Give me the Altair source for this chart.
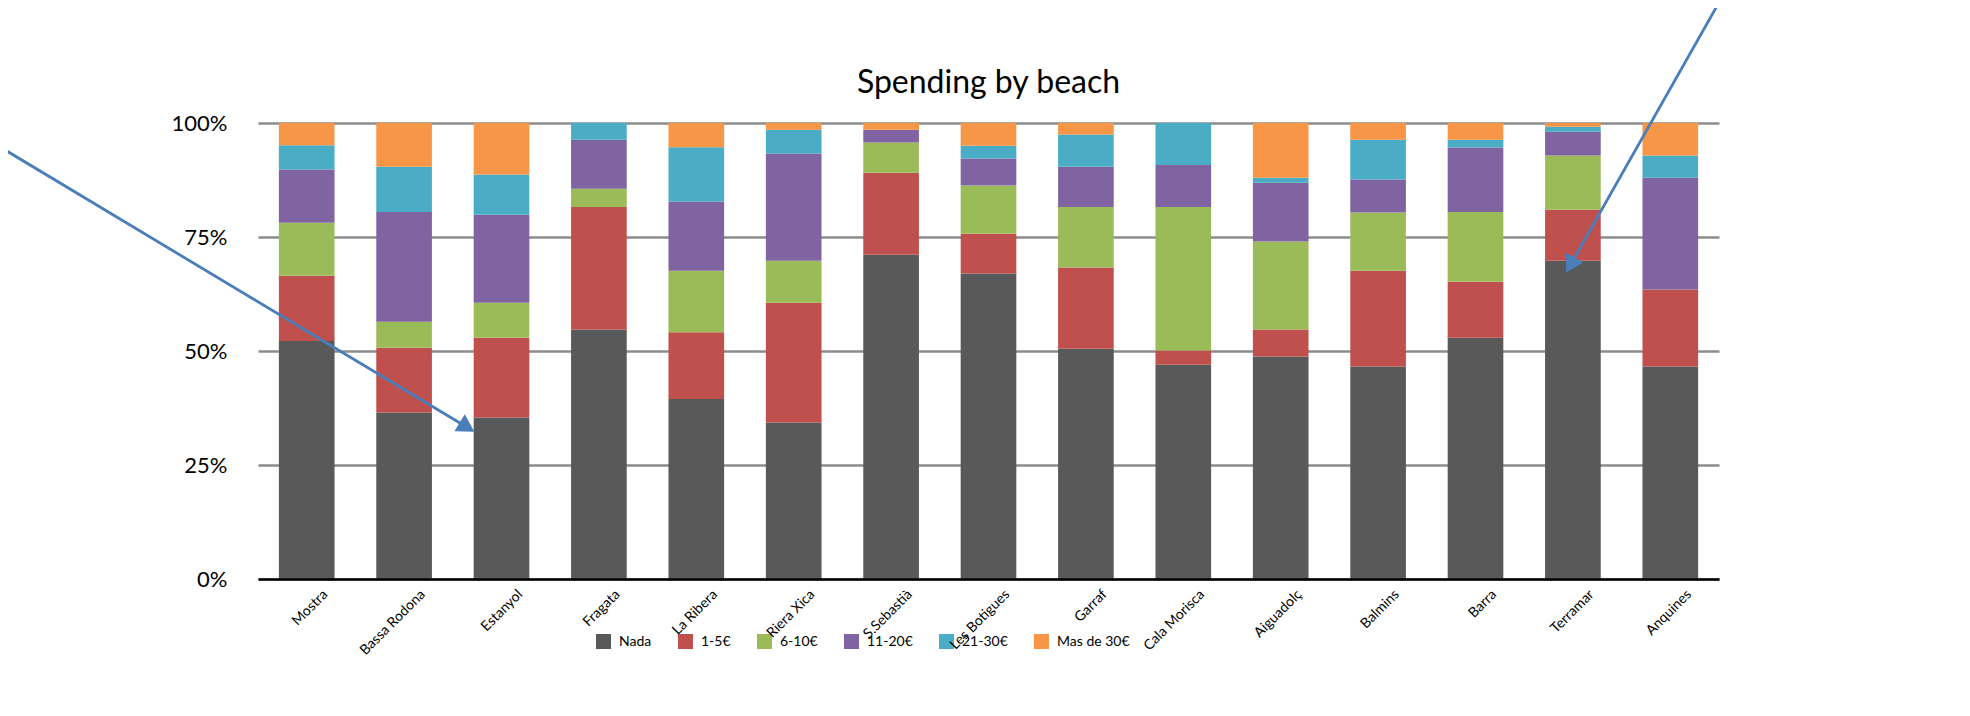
import math
import altair as alt
import pandas as pd

beaches = ["Mostra", "Bassa Rodona", "Estanyol", "Fragata", "La Ribera", "Riera Xica",
           "S.Sebastià", "Les Botigues", "Garraf", "Cala Morisca", "Aiguadolç",
           "Balmins", "Barra", "Terramar", "Anquines"]
categories = ["Nada", "1-5€", "6-10€", "11-20€", "21-30€", "Mas de 30€"]

nada = [52.2, 36.5, 35.4, 54.7, 39.5, 34.3, 71.1, 67.0, 50.5, 47.0, 48.8, 46.6, 52.9, 69.8, 46.6]
e1_5 = [14.3, 14.2, 17.5, 26.9, 14.6, 26.3, 18.0, 8.7, 17.8, 3.1, 5.9, 21.0, 12.3, 11.2, 16.9]
e6_10 = [11.6, 5.7, 7.7, 4.0, 13.5, 9.2, 6.6, 10.6, 13.3, 31.5, 19.3, 12.8, 15.3, 11.9, 0.0]
e11_20 = [11.7, 24.1, 19.3, 10.7, 15.2, 23.5, 2.8, 5.9, 8.8, 9.2, 12.9, 7.2, 14.1, 5.2, 24.5]
e21_30 = [5.3, 9.9, 8.8, 3.7, 11.9, 5.2, 0.0, 2.8, 7.1, 9.2, 1.1, 8.7, 1.7, 1.1, 4.9]
e30p = [4.9, 9.6, 11.3, 0.0, 5.3, 1.5, 1.5, 5.0, 2.5, 0.0, 12.0, 3.7, 3.7, 0.8, 7.1]

colors = ["#595959", "#C0504D", "#9BBB59", "#8064A2", "#4BACC6", "#F79646"]

# annotation arrows (category units on x, share of 100% on y)
arrow_x_start = [-2.645, 15.015]
arrow_y_start = [0.947, 1.270]
arrow_x_tip = [2.222, 13.43]
arrow_y_tip = [0.323, 0.672]

W, H = 1461, 456
NCAT = len(beaches)
HEAD = 400
HEAD_BACK = 0.866 * math.sqrt(HEAD) / 2

series = [nada, e1_5, e6_10, e11_20, e21_30, e30p]
rows = []
for ci, (cat, vals) in enumerate(zip(categories, series)):
    for b, v in zip(beaches, vals):
        rows.append({"beach": b, "cat": cat, "value": v, "idx": ci})
df = pd.DataFrame(rows)

arows = []
for xs, ys, xt, yt in zip(arrow_x_start, arrow_y_start, arrow_x_tip, arrow_y_tip):
    dxp = (xt - xs) * W / NCAT
    dyp = -(yt - ys) * H
    length = math.hypot(dxp, dyp)
    f = 1 - HEAD_BACK / length
    ang = math.degrees(math.atan2(dxp, -dyp)) % 360
    arows.append({"xs": xs, "ys": ys, "xh": xs + f * (xt - xs), "yh": ys + f * (yt - ys), "ang": ang})
adf = pd.DataFrame(arows)

bars = alt.Chart(df).mark_bar().encode(
    x=alt.X("beach:N", sort=beaches,
            scale=alt.Scale(paddingInner=0.4286, paddingOuter=0.2143),
            axis=alt.Axis(title="", labelAngle=-45, labelAlign="right", labelBaseline="top",
                          labelFontSize=14, labelColor="black", labelPadding=8, labelOffset=14,
                          ticks=False, tickSize=0, domainColor="black", domainWidth=2.5,
                          grid=False, zindex=1)),
    y=alt.Y("value:Q", stack="normalize",
            scale=alt.Scale(domain=[0, 1], nice=False),
            axis=alt.Axis(title="", values=[0, 0.25, 0.5, 0.75, 1], format=".0%",
                          labelFontSize=22, labelColor="black", labelPadding=31,
                          ticks=False, tickSize=0, domain=False, grid=True,
                          gridColor="#8c8c8c", gridWidth=2.5)),
    color=alt.Color("cat:N", sort=categories,
                    scale=alt.Scale(domain=categories, range=colors),
                    legend=alt.Legend(title=None, orient="none", direction="horizontal",
                                      legendX=338, legendY=511, symbolType="square",
                                      symbolSize=225, symbolStrokeWidth=0, labelFontSize=14,
                                      labelColor="black", labelOffset=8, columnPadding=26,
                                      padding=0)),
    order=alt.Order("idx:Q", sort="ascending"),
)

xs_scale = alt.Scale(domain=[0, NCAT], nice=False, zero=False)
ys_scale = alt.Scale(domain=[0, 1], nice=False, zero=False)

arrow_lines = alt.Chart(adf).mark_rule(color="#4A7EBB", strokeWidth=2.8, clip=False).encode(
    x=alt.X("xs:Q", scale=xs_scale, axis=None),
    y=alt.Y("ys:Q", scale=ys_scale, axis=None),
    x2="xh:Q",
    y2="yh:Q",
)

arrow_heads = alt.Chart(adf).mark_point(shape="triangle-up", filled=True, size=HEAD,
                                        color="#4A7EBB", opacity=1, clip=False).encode(
    x=alt.X("xh:Q", scale=xs_scale, axis=None),
    y=alt.Y("yh:Q", scale=ys_scale, axis=None),
    angle=alt.Angle("ang:Q", scale=None),
)

chart = alt.layer(bars, arrow_lines, arrow_heads).resolve_scale(
    x="independent", y="independent"
).properties(
    width=W, height=H,
    title=alt.TitleParams("Spending by beach", fontSize=32, fontWeight="normal",
                          color="black", anchor="middle", baseline="alphabetic",
                          offset=0, dy=127),
    padding={"left": 250, "top": 115, "right": 235, "bottom": 100},
    autosize=alt.AutoSizeParams(type="none"),
    background="white",
).configure(font="Lato").configure_view(stroke="transparent")

chart.save("out.html", embed_options={"renderer": "svg", "actions": False})
